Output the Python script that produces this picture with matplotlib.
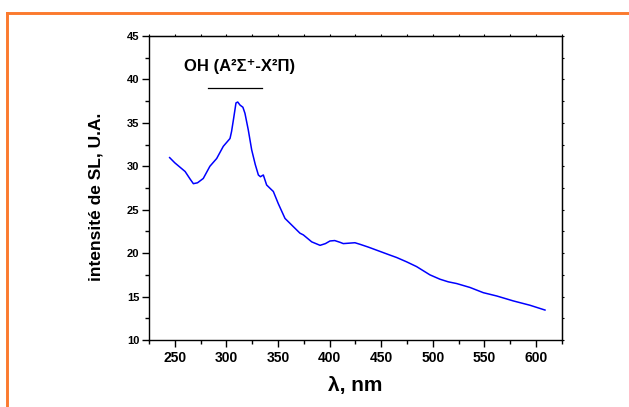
import numpy as np
import matplotlib
matplotlib.use("Agg")
import matplotlib.pyplot as plt
from matplotlib.lines import Line2D
from matplotlib.ticker import MultipleLocator

plt.rcParams['font.family'] = ['Liberation Sans', 'DejaVu Sans']

# spectrum (wavelength nm, intensity a.u.)
wavelength = [245, 250, 255, 260, 265, 268, 272, 277.6, 284, 290.6, 297, 303.5,
              305, 307, 309.3, 311, 313.2, 316, 318, 321.2, 324.5, 328, 331,
              333, 335.8, 339, 342, 345.5, 350.3, 356.8, 364.9, 371.3, 374.6,
              382.7, 390.8, 396, 400.4, 405, 410.1, 413.3, 419, 424.6, 430,
              437.5, 448.9, 458, 465, 474.7, 484.4, 497.3, 507, 515, 523.2,
              536.1, 549, 562, 578.1, 594.3, 608.8]
intensity = [31.0, 30.4, 29.9, 29.4, 28.5, 28.0, 28.1, 28.6, 30.0, 30.9, 32.3, 33.2,
             34.0, 35.5, 37.3, 37.4, 37.05, 36.8, 36.1, 34.2, 31.9, 30.2, 29.0,
             28.8, 29.0, 27.85, 27.5, 27.1, 25.7, 24.0, 23.05, 22.3, 22.1,
             21.3, 20.9, 21.1, 21.4, 21.45, 21.25, 21.1, 21.15, 21.2, 21.0,
             20.7, 20.2, 19.8, 19.5, 19.0, 18.45, 17.5, 17.0, 16.7, 16.5,
             16.05, 15.45, 15.07, 14.5, 14.0, 13.45]

annot_text = 'OH (A²Σ⁺-X²Π)'

fig = plt.figure(figsize=(6.29, 4.07), dpi=100)
ax = fig.add_axes([0.2369, 0.1646, 0.893 - 0.2369, 0.9115 - 0.1646])

ax.plot(wavelength, intensity, color='#0000ff', lw=1.1)

ax.set_xlim(225, 625)
ax.set_ylim(10, 45)
ax.xaxis.set_major_locator(MultipleLocator(50))
ax.xaxis.set_minor_locator(MultipleLocator(25))
ax.yaxis.set_major_locator(MultipleLocator(5))
ax.yaxis.set_minor_locator(MultipleLocator(2.5))
ax.set_xticks([250, 300, 350, 400, 450, 500, 550, 600])

ax.tick_params(which='both', direction='out', width=1.0)
ax.tick_params(which='major', length=5)
ax.tick_params(which='minor', length=3)
ax.tick_params(axis='x', which='major', labelsize=10, pad=3)
ax.tick_params(axis='y', which='major', labelsize=8, pad=2)
for lab in ax.get_xticklabels() + ax.get_yticklabels():
    lab.set_fontweight('bold')
for s in ax.spines.values():
    s.set_linewidth(1.0)

# small ticks on top and right spines, no labels
tx = ax.secondary_xaxis('top')
tx.xaxis.set_major_locator(MultipleLocator(25))
tx.tick_params(direction='out', length=1.5, width=0.8, labeltop=False)
ty = ax.secondary_yaxis('right')
ty.yaxis.set_major_locator(MultipleLocator(2.5))
ty.tick_params(direction='out', length=1.5, width=0.8, labelright=False)

ax.set_xlabel('λ, nm', fontsize=15, fontweight='bold', labelpad=8)
ax.set_ylabel('intensité de SL, U.A.', fontsize=12.5, fontweight='bold')
ax.yaxis.set_label_coords(-0.11, 0.47)

ax.text(313, 41.5, annot_text, ha='center', va='center', fontsize=12,
        fontweight='bold')
ax.plot([282, 334.5], [39.0, 39.0], color='black', lw=0.9)

# orange frame, left and top
W, H = 629, 407
fig.add_artist(Line2D([7.3 / W, 7.3 / W], [0, 1 - 12.5 / H], color='#fb7a2e',
                      lw=2.1, transform=fig.transFigure, solid_capstyle='projecting'))
fig.add_artist(Line2D([7.3 / W, 1], [1 - 12.5 / H, 1 - 12.5 / H], color='#fb7a2e',
                      lw=2.1, transform=fig.transFigure, solid_capstyle='projecting'))

fig.savefig('out.png', dpi=100)
